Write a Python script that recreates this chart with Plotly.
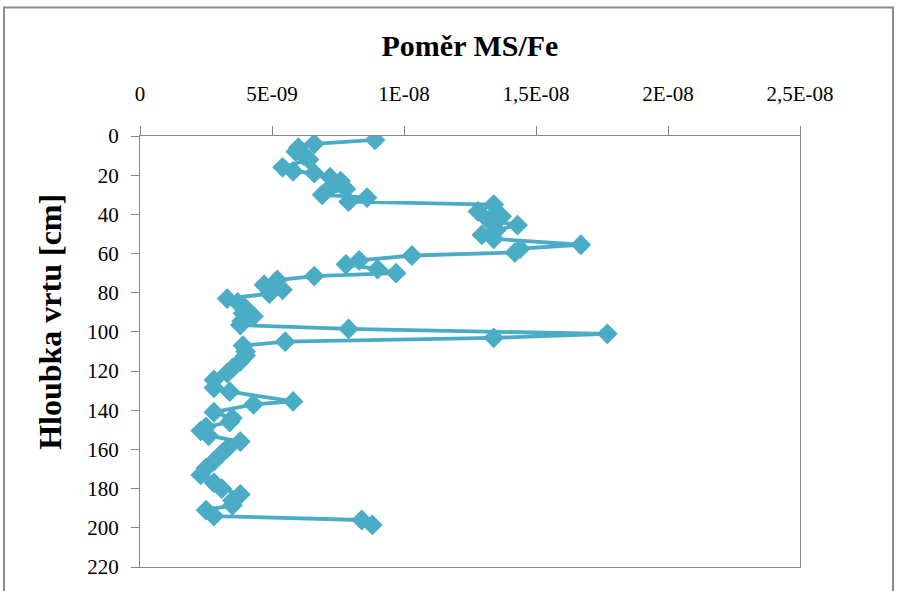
import plotly.graph_objects as go

# Depth profile of the MS/Fe ratio along the borehole
depth_cm = [
    2, 4, 6, 8, 10, 12, 16, 18, 19, 21, 23, 25, 27, 30, 31.5, 33.5,
    35, 38.5, 41, 43, 45.5, 48, 50.5, 52.5, 55.5, 57.5, 59.5, 61, 63.5,
    65.5, 68, 70, 71.5, 73.5, 76, 78.5, 80.5, 83, 85, 88, 90.5, 92, 94.5,
    96.5, 98.5, 101, 103, 105, 107, 110, 112, 115, 118.5, 121, 124.5,
    128.5, 130.5, 135.5, 137, 141, 144, 146, 148.5, 150.5, 153, 156, 159.5,
    162, 166, 169.5, 173, 177, 180, 183, 186, 188.5, 191, 194, 196, 198.5,
]
ms_fe = [
    8.9e-9, 6.6e-9, 6.0e-9, 5.9e-9, 6.2e-9, 6.4e-9, 5.4e-9, 5.8e-9, 6.6e-9,
    7.2e-9, 7.6e-9, 7.3e-9, 7.8e-9, 6.9e-9, 8.6e-9, 7.9e-9,
    13.4e-9, 12.8e-9, 13.7e-9, 13.2e-9, 14.3e-9, 13.5e-9, 12.95e-9, 13.4e-9,
    16.7e-9, 14.4e-9, 14.2e-9, 10.3e-9, 8.3e-9, 7.8e-9, 9.0e-9, 9.7e-9,
    6.6e-9, 5.2e-9, 4.7e-9, 5.4e-9, 4.9e-9, 3.3e-9, 3.7e-9, 4.0e-9, 3.9e-9,
    4.3e-9, 3.85e-9, 3.8e-9, 7.9e-9, 17.7e-9, 13.4e-9, 5.5e-9, 3.9e-9,
    4.0e-9, 4.0e-9, 3.8e-9, 3.5e-9, 3.3e-9, 2.8e-9, 2.8e-9, 3.4e-9, 5.8e-9,
    4.3e-9, 2.8e-9, 3.5e-9, 3.4e-9, 2.5e-9, 2.3e-9, 2.6e-9, 3.8e-9, 3.3e-9,
    3.1e-9, 2.8e-9, 2.5e-9, 2.3e-9, 2.8e-9, 3.1e-9, 3.8e-9, 3.5e-9, 3.5e-9,
    2.5e-9, 2.8e-9, 8.4e-9, 8.8e-9,
]

x_tick_vals = [0, 5e-9, 1e-8, 1.5e-8, 2e-8, 2.5e-8]
x_tick_text = ["0", "5E-09", "1E-08", "1,5E-08", "2E-08", "2,5E-08"]
y_tick_vals = list(range(0, 221, 20))

series_color = "#4BACC6"
axis_color = "#868686"
serif = "Liberation Serif"
tick_font = dict(family=serif, size=21, color="black")

fig = go.Figure(
    go.Scatter(
        x=ms_fe,
        y=depth_cm,
        mode="lines+markers",
        line=dict(color=series_color, width=3.8),
        marker=dict(symbol="diamond", size=16, color=series_color),
        showlegend=False,
        hoverinfo="x+y",
    )
)

fig.update_layout(
    width=897,
    height=591,
    margin=dict(l=140, r=97, t=136, b=19),
    paper_bgcolor="white",
    plot_bgcolor="white",
    font=dict(family=serif, size=21, color="black"),
    xaxis=dict(
        side="top",
        range=[0, 2.5e-8],
        tickvals=x_tick_vals,
        ticktext=x_tick_text,
        tickfont=tick_font,
        ticks="outside",
        ticklen=9,
        tickcolor=axis_color,
        ticklabelstandoff=16,
        showgrid=False,
        zeroline=False,
        showline=True,
        linecolor=axis_color,
        linewidth=1.3,
        mirror=True,
        title=dict(
            text="<b>Poměr MS/Fe</b>",
            font=dict(family=serif, size=30, color="black"),
            standoff=16,
        ),
    ),
    yaxis=dict(
        range=[220, 0],
        tickvals=y_tick_vals,
        tickfont=tick_font,
        ticks="outside",
        ticklen=8,
        tickcolor=axis_color,
        ticklabelstandoff=8,
        showgrid=False,
        zeroline=False,
        showline=True,
        linecolor=axis_color,
        linewidth=1.3,
        mirror=True,
    ),
    annotations=[
        dict(
            text="<b>Hloubka vrtu [cm]</b>",
            xref="paper",
            yref="paper",
            x=(50 - 140) / 660,
            y=(572 - 324) / 436,
            xanchor="center",
            yanchor="middle",
            textangle=-90,
            showarrow=False,
            font=dict(family=serif, size=32, color="black"),
        )
    ],
    shapes=[
        dict(
            type="rect",
            xref="paper",
            yref="paper",
            x0=(4 - 140) / 660,
            x1=(893 - 140) / 660,
            y0=-0.1,
            y1=(572 - 6) / 436,
            line=dict(color="#8c8c8c", width=2),
            fillcolor="rgba(0,0,0,0)",
            layer="below",
        )
    ],
)

fig.write_html("out.html")
